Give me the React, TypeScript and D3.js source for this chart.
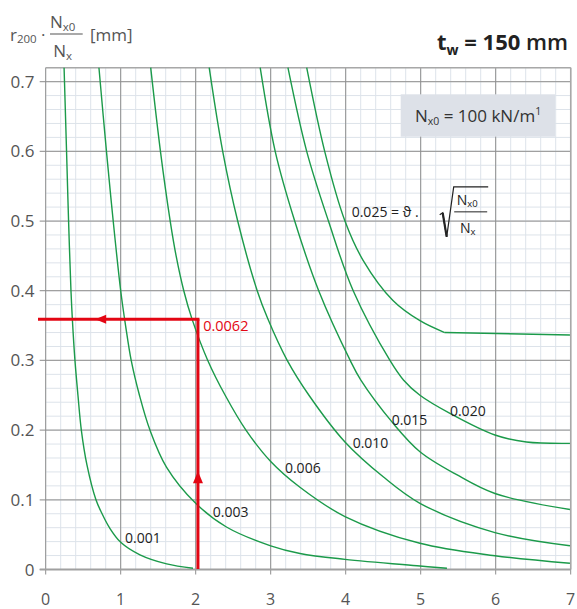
import React from 'react';
import * as d3 from 'd3';

type Pt = [number, number];

// ---- data ----
const curveNames = ['0.001', '0.003', '0.006', '0.010', '0.015', '0.020', '0.025'];

const curve001: Pt[] = [
  [0.245, 0.72], [0.278, 0.6], [0.305, 0.5], [0.337, 0.4], [0.355, 0.36], [0.39, 0.3],
  [0.43, 0.25], [0.475, 0.2], [0.55, 0.15], [0.67, 0.1], [0.747, 0.081], [0.85, 0.06],
  [1.0, 0.039], [1.257, 0.021], [1.613, 0.008], [1.964, 0.0017],
];
const curve003: Pt[] = [
  [0.71, 0.72], [0.81, 0.6], [0.9, 0.5], [1.0, 0.4], [1.065, 0.35], [1.14, 0.3],
  [1.25, 0.25], [1.39, 0.2], [1.61, 0.147], [2.0, 0.095], [2.41, 0.061],
  [3.0, 0.034], [3.39, 0.023], [3.99, 0.0146], [4.99, 0.005], [5.35, 0.0017],
];
const curve006: Pt[] = [
  [1.4, 0.72], [1.53, 0.6], [1.66, 0.5], [1.739, 0.45], [1.841, 0.4], [1.949, 0.36],
  [2.161, 0.3], [2.393, 0.25], [2.67, 0.2], [3.0, 0.155], [3.39, 0.118],
  [3.99, 0.076], [4.99, 0.0376], [5.99, 0.0198], [6.99, 0.0089],
];
const curve010: Pt[] = [
  [2.18, 0.72], [2.36, 0.6], [2.56, 0.5], [2.82, 0.4], [2.96, 0.36], [3.22, 0.3],
  [3.51, 0.25], [3.99, 0.183], [4.5, 0.133], [4.99, 0.095], [5.99, 0.053], [6.99, 0.034],
];
const curve015: Pt[] = [
  [2.86, 0.72], [3.06, 0.6], [3.32, 0.5], [3.64, 0.4], [4.06, 0.3], [4.2, 0.272],
  [4.63, 0.21], [4.99, 0.169], [5.48, 0.136], [5.99, 0.109], [6.99, 0.086],
];
const curve020: Pt[] = [
  [3.23, 0.72], [3.48, 0.6], [3.77, 0.5], [4.1, 0.4], [4.59, 0.3], [4.77, 0.272],
  [4.99, 0.25], [5.39, 0.224], [5.99, 0.193], [6.41, 0.183], [6.99, 0.181],
];
const curve025: Pt[] = [
  [3.48, 0.72], [3.72, 0.6], [3.99, 0.5], [4.23, 0.444], [4.63, 0.386], [4.99, 0.357],
  [5.32, 0.34],
];
const curve025Tail: Pt[] = [[5.32, 0.34], [6.99, 0.3365]];
const curves: Pt[][] = [curve001, curve003, curve006, curve010, curve015, curve020, curve025];

// label anchors in data units (left / baseline of the text)
const curveLabelAnchors: Pt[] = [
  [1.057, 0.038], [2.227, 0.075], [3.19, 0.139], [4.093, 0.174], [4.613, 0.207], [5.39, 0.22],
];

const xTicks = [0, 1, 2, 3, 4, 5, 6, 7];
const xTickLabels = ['0', '1', '2', '3', '4', '5', '6', '7'];
const yTicks = [0, 0.1, 0.2, 0.3, 0.4, 0.5, 0.6, 0.7];
const yTickLabels = ['0', '0.1', '0.2', '0.3', '0.4', '0.5', '0.6', '0.7'];

const readX = 2.03;
const readY = 0.359;
const readLabel = '0.0062';
const formulaAnchor: Pt = [4.08, 0.506];

// ---- layout ----
const W = 577;
const H = 609;
const x = d3.scaleLinear().domain([0, 7]).range([45.7, 570.7]);
const y = d3.scaleLinear().domain([0, 0.72]).range([569.5, 67.7]);

const GREEN = '#1b9a4a';
const RED = '#e30613';
const FONT = "'Open Sans', 'Noto Sans', sans-serif";

export default function App() {
  const line = d3
    .line<Pt>()
    .x((d) => x(d[0]))
    .y((d) => y(d[1]))
    .curve(d3.curveCatmullRom.alpha(0.5));
  const straight = d3
    .line<Pt>()
    .x((d) => x(d[0]))
    .y((d) => y(d[1]));

  const minorX = d3.range(0, 7.001, 0.2);
  const minorY = d3.range(0, 0.7201, 0.02);

  const rx = x(readX);
  const ry = y(readY);
  const hTip = x(0.66);
  const vTip = y(0.141);

  const [fx, fy] = [x(formulaAnchor[0]), y(formulaAnchor[1])];

  return (
    <svg
      width={W}
      height={H}
      viewBox={`0 0 ${W} ${H}`}
      style={{ position: 'absolute', left: 0, top: 0, background: '#fff' }}
      fontFamily={FONT}
    >
      {/* minor grid */}
      <g stroke="#dde3ea" strokeWidth={1}>
        {minorX.map((v, i) => (
          <line key={'mx' + i} x1={x(v)} x2={x(v)} y1={y(0)} y2={y(0.72)} />
        ))}
        {minorY.map((v, i) => (
          <line key={'my' + i} x1={x(0)} x2={x(7)} y1={y(v)} y2={y(v)} />
        ))}
      </g>
      {/* major grid */}
      <g stroke="#a0a0a0" strokeWidth={1.2}>
        {yTicks.map((v, i) => (
          <line key={'My' + i} x1={x(0) - 6} x2={x(7)} y1={y(v)} y2={y(v)} />
        ))}
      </g>
      <g stroke="#8e8e8e" strokeWidth={1}>
        {xTicks.map((v, i) => (
          <line key={'Mx' + i} x1={x(v)} x2={x(v)} y1={y(0.72)} y2={y(0) + 5} />
        ))}
      </g>
      {/* frame */}
      <line x1={x(0)} x2={x(7)} y1={y(0.72)} y2={y(0.72)} stroke="#a8a8a8" strokeWidth={1.5} />
      <line x1={x(7)} x2={x(7)} y1={y(0.72)} y2={y(0)} stroke="#a8a8a8" strokeWidth={1.5} />
      <line x1={x(0) - 6} x2={x(7)} y1={y(0)} y2={y(0)} stroke="#a0a0a0" strokeWidth={2} />

      {/* tick labels */}
      <g fontSize={17} fill="#555">
        {yTicks.map((v, i) => (
          <text key={'yl' + i} x={34.5} y={y(v) + 6} textAnchor="end">
            {yTickLabels[i]}
          </text>
        ))}
      </g>
      <g fontSize={16} fill="#555">
        {xTicks.map((v, i) => (
          <text key={'xl' + i} x={x(v)} y={604.5} textAnchor="middle">
            {xTickLabels[i]}
          </text>
        ))}
      </g>

      {/* curves */}
      <g fill="none" stroke={GREEN} strokeWidth={1.4}>
        {curves.map((c, i) => (
          <path key={'c' + i} d={line(c) || ''} />
        ))}
        <path d={straight(curve025Tail) || ''} />
      </g>

      {/* curve labels */}
      <g fontSize={14} fill="#222">
        {curveLabelAnchors.map((a, i) => (
          <text key={'cl' + i} x={x(a[0])} y={y(a[1])}>
            {curveNames[i]}
          </text>
        ))}
      </g>

      {/* legend box */}
      <rect x={400.7} y={94.3} width={154.3} height={42.4} fill="#dde1e8" />
      <text x={415} y={121.7} fontSize={17} fill="#333">
        N<tspan fontSize={10.5} dy={3}>x0</tspan>
        <tspan dy={-3}> = 100 kN/m</tspan>
        <tspan fontSize={10.5} dy={-7}>1</tspan>
      </text>

      {/* formula */}
      <text x={fx} y={fy} fontSize={14} fill="#222">
        {curveNames[6]} = ϑ .
      </text>
      <path
        d={`M${fx + 88},${fy - 2} L${fx + 91},${fy - 4} L${fx + 95},${fy + 20} L${fx + 102},${fy - 30} L${fx + 136.5},${fy - 30}`}
        fill="none"
        stroke="#222"
        strokeWidth={1.2}
      />
      <line x1={fx + 91} y1={fy - 4} x2={fx + 95} y2={fy + 20} stroke="#222" strokeWidth={2.2} />
      <text x={fx + 105} y={fy - 11.5} fontSize={14} fill="#222">
        N<tspan fontSize={9.5} dy={2}>x0</tspan>
      </text>
      <line x1={fx + 102.5} x2={fx + 135.5} y1={fy - 5} y2={fy - 5} stroke="#222" strokeWidth={1} />
      <text x={fx + 108.3} y={fy + 16} fontSize={14} fill="#222">
        N<tspan fontSize={9.5} dy={2}>x</tspan>
      </text>

      {/* reading example */}
      <g stroke={RED} strokeWidth={3} fill="none">
        <line x1={38} x2={rx + 1.5} y1={ry} y2={ry} />
        <line x1={rx} x2={rx} y1={y(0) - 0.5} y2={ry} />
      </g>
      <path d={`M${hTip},${ry} L${hTip + 11},${ry - 4.5} L${hTip + 11},${ry + 4.5} Z`} fill={RED} />
      <path d={`M${rx},${vTip} L${rx - 5},${vTip + 12} L${rx + 5},${vTip + 12} Z`} fill={RED} />
      <text x={x(2.1)} y={y(0.342)} fontSize={14.5} fill={RED}>
        {readLabel}
      </text>

      {/* axis title */}
      <g fill="#555" fontSize={17}>
        <text x={10} y={40.7}>
          r<tspan fontSize={11.5} dy={2.6}>200</tspan>
          <tspan dy={-2.6}> ·</tspan>
        </text>
        <text x={50} y={28.3}>
          N<tspan fontSize={11.5} dy={2.4}>x0</tspan>
        </text>
        <line x1={50} x2={82.7} y1={34} y2={34} stroke="#555" strokeWidth={1.2} />
        <text x={53.3} y={56.7}>
          N<tspan fontSize={11.5} dy={3}>x</tspan>
        </text>
        <text x={90} y={40.7}>[mm]</text>
      </g>

      {/* title */}
      <text x={568} y={50} textAnchor="end" fontSize={22} fontWeight={700} fill="#222">
        t<tspan fontSize={14} dy={5}>w</tspan>
        <tspan dy={-5}> = 150</tspan>
        <tspan fontWeight={600}> mm</tspan>
      </text>
    </svg>
  );
}
